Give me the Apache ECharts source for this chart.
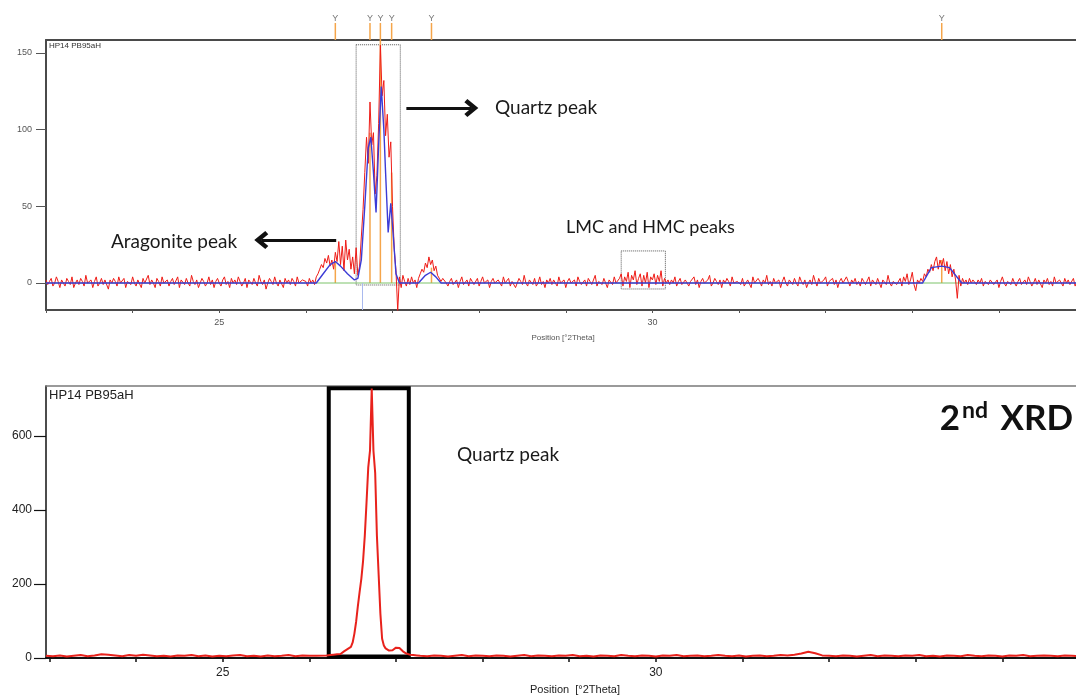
<!DOCTYPE html>
<html>
<head>
<meta charset="utf-8">
<title>HP14 PB95aH – XRD scans</title>
<script src="https://cdn.jsdelivr.net/npm/echarts@6/dist/echarts.min.js"></script>
<style>
  html, body { margin: 0; padding: 0; background: #fff; overflow: hidden; }
  #chart { width: 1076px; height: 700px; }
</style>
</head>
<body>
<div id="chart"></div>
<script>
// ---------- 1st scan (counts, segments of the 2θ range) ----------
// 23.00 – 25.98 °2θ, step 0.02
const topScanLeft = [
  2,-1,1,3,-2,0,4,1,-3,2,   0,-2,3,1,-1,4,-3,0,2,-1,
  3,1,-2,5,0,-1,2,-3,1,4,   -2,0,3,-1,2,1,-4,2,0,3,
  1,-2,4,0,-1,3,-3,1,2,-1,  4,0,-2,2,1,-3,3,0,-1,5,
  -1,2,0,-3,3,1,-2,4,0,-1,  2,-2,1,3,-1,0,4,-3,2,1,
  -1,3,0,-2,5,1,-1,2,-3,0,  3,1,-2,0,4,-1,2,-3,1,3,
  0,-2,2,4,-1,1,-3,3,0,2,   -1,4,1,-2,0,3,-3,2,1,-1,
  3,0,-2,5,1,-1,2,-4,0,3,   1,-1,4,0,-2,2,1,-3,3,0,
  2,-1,3,1,-2,4,0,-1,2,1
];
// 26.00 – 27.58 °2θ, step 0.02 (aragonite + quartz region)
const topScanQuartz = [
  1,-2,3,0,2,-1,4,6,9,12,
  10,16,13,18,11,15,9,20,14,27,
  12,24,8,28,15,22,9,17,6,23,
  5,11,30,48,72,95,78,118,90,98,
  58,70,104,155,122,132,96,110,82,92,
  50,22,8,-18,4,-3,5,1,-2,3,
  -1,4,0,2,-3,3,6,9,7,13,
  10,17,12,15,8,11,5,6,1,3
];
// 27.60 – 32.98 °2θ, step 0.02 (LMC / HMC window near 29.6 – 30.2)
const topScanMid = [
  2,0,-2,1,3,-1,0,2,-3,1,   4,-1,0,2,-2,3,1,-1,0,3,
  -2,1,4,0,-1,2,-3,1,3,0,   -1,2,1,-2,4,0,-1,3,-2,1,
  2,-3,0,3,1,-1,5,0,-2,2,   1,-1,3,-2,0,4,-1,1,-3,2,
  0,3,-1,2,1,-2,4,0,-1,2,   -3,1,3,0,-1,2,-2,4,1,-1,
  0,2,-2,3,1,-1,0,5,-2,1,   2,-1,3,0,-3,2,1,-1,4,0,
  -1,3,6,-2,4,1,7,-3,5,2,   8,-1,3,6,-2,5,0,7,-3,4,
  2,6,-1,5,1,8,-2,3,0,2,    -1,2,0,4,-2,1,3,-1,0,2,
  3,-2,1,0,4,-1,2,-3,1,3,   0,-1,2,5,-2,0,3,1,-1,2,
  -3,2,0,3,1,-2,4,0,-1,1,   2,-1,3,-2,0,2,1,-3,4,0,
  -1,3,1,-2,2,0,5,-1,1,-2,  3,0,-1,2,-3,1,4,0,-2,2,
  1,-1,3,0,-2,4,1,-1,2,-3,  0,2,-1,5,1,-2,3,0,-1,2,
  4,-2,1,0,3,-1,2,-3,1,3,   0,-1,4,1,-2,2,0,3,-1,1,
  -2,3,1,-1,0,4,-2,2,1,-1,  3,0,-3,2,1,-1,5,0,-2,1,
  2,-1,0,3,-2,4,1,6,-1,2
];
// 33.00 – 33.70 °2θ, step 0.02
const topScanHump = [
  7,-1,-5,2,0,3,1,6,4,9, 7,12,8,14,17,9,15,11,16,8,
  14,6,12,4,9,2,-10,5,-2,3, 0,2,-1,3,0,2
];
// 33.72 – 34.94 °2θ, step 0.02
const topScanRight = [
  1,-1,2,0,3,-2,1,0,-1,2,  3,-1,0,2,-3,1,4,0,-2,1,
  2,-1,3,0,-2,1,3,-1,0,2,  -1,4,1,-2,0,3,-1,2,1,-3,
  2,0,3,-1,1,-2,4,0,-1,2,  1,-2,3,0,2,-1,0,3,-2,1,
  2,0
];

// fitted profile of the 1st scan
const fitPos = [23.00,26.12,26.20,26.28,26.34,26.40,26.48,26.56,26.60,26.64,
                26.68,26.72,26.75,26.78,26.81,26.84,26.87,26.90,26.92,26.95,
                26.98,27.01,27.04,27.08,27.30,27.38,27.44,27.50,27.56,33.12,
                33.22,33.34,33.43,33.57,34.94];
const fitCounts = [0,0,6,12,14,11,6,2,3,15,
                   50,88,95,72,46,90,128,100,72,33,
                   52,30,6,0,0,5,7,4,0,0,
                   10,11,10,0,0];

// reference pattern lines (position °2θ, height in counts)
const stickPos = [26.34, 26.74, 26.86, 26.99, 27.45, 33.34];
const stickHeight = [14, 98, 160, 72, 10, 15];
const cursorPos = 26.65;

// ---------- 2nd scan ----------
// 22.96 – 26.08 °2θ, step 0.08
const botScanLeft = [
  6,5,7,4,6,8,5,7,10,9, 7,5,8,6,9,7,5,6,4,7,
  6,8,5,7,4,6,5,7,8,5, 6,4,7,5,6,8,5,7,6,6
];
// 26.20 – 27.30 °2θ, step 0.02 (quartz peak)
const botScanQuartz = [
  7,6,8,7,9,8,10,12,11,14,
  18,22,24,26,30,42,66,98,140,178,
  214,262,330,420,515,560,728,560,500,330,
  225,120,52,34,26,22,20,19,21,24,
  28,30,27,22,18,14,12,10,9,7,
  8,6,7,5,6,5
];
// 27.36 – 34.88 °2θ, step 0.08
const botScanRight = [
  5,7,6,4,6,8,5,7,6,5, 7,6,4,6,8,5,7,6,5,7,
  6,8,5,6,4,7,6,5,8,6, 5,7,6,4,7,6,8,5,6,7,
  5,6,8,6,5,7,4,6,7,5, 6,8,7,9,12,17,13,7,6,5,
  7,6,4,6,8,5,7,6,5,7, 6,8,5,6,4,7,6,5,8,6,
  5,7,6,4,7,6,8,5,6,7, 6,5,7,6,5
];

// axis ticks
const topYTicks = [0, 50, 100, 150];
const botYTicks = [0, 200, 400, 600];
const xMinorTicks = [23,24,25,26,27,28,29,30,31,32,33,34];
const xLabelTicks = [25, 30];

// ---------- helpers ----------
function scan(start, step, values) {
  return values.map((v, i) => [+(start + i * step).toFixed(3), v]);
}
const topScan = [].concat(
  scan(23.00, 0.02, topScanLeft),
  scan(26.00, 0.02, topScanQuartz),
  scan(27.60, 0.02, topScanMid),
  scan(33.00, 0.02, topScanHump),
  scan(33.72, 0.02, topScanRight)
);
const topFit = fitPos.map((p, i) => [p, fitCounts[i]]);
const botScan = [].concat(
  scan(22.96, 0.08, botScanLeft),
  scan(26.20, 0.02, botScanQuartz),
  scan(27.36, 0.08, botScanRight)
);

const TOP_X_MIN = 23.00, TOP_X_MAX = 34.89;
const BOT_X_MIN = 22.96, BOT_X_MAX = 34.85;
const TOP_Y_MIN = -17.6, TOP_Y_MAX = 158.4;
const AXIS_FONT = 'Liberation Sans';
const NOTE_FONT = 'Lato';
const ORANGE = '#f5a54a';

// chevron arrow head (tip at the top of the path box)
const chevron = 'path://M10,0 L20,11 L16.5,14 L10,7 L3.5,14 L0,11 Z';

// frame edge drawn as a bare axis line (the plots run off the right edge)
function frameEdge(gridIndex, min, max, color, width) {
  return { gridIndex, type: 'value', position: 'top', min, max,
    axisLine: { show: true, onZero: false, lineStyle: { color, width } },
    axisTick: { show: false }, axisLabel: { show: false }, splitLine: { show: false } };
}

const chart = echarts.init(document.getElementById('chart'), null, { renderer: 'canvas' });

const option = {
  animation: false,
  backgroundColor: '#ffffff',
  grid: [
    { left: 46, right: 0, top: 40, height: 270 },
    { left: 46, right: 0, top: 386, height: 272 }
  ],
  xAxis: [
    { gridIndex: 0, type: 'value', min: TOP_X_MIN, max: TOP_X_MAX,
      axisLine: { show: true, onZero: false, lineStyle: { color: '#4a4a4a', width: 2 } },
      splitLine: { show: false },
      axisTick: { show: true, length: 3, customValues: xMinorTicks, lineStyle: { color: '#555' } },
      axisLabel: { customValues: xLabelTicks, margin: 8, fontSize: 9, color: '#555', fontFamily: AXIS_FONT } },
    { gridIndex: 1, type: 'value', min: BOT_X_MIN, max: BOT_X_MAX,
      axisLine: { show: true, onZero: false, lineStyle: { color: '#111', width: 2 } },
      splitLine: { show: false },
      axisTick: { show: true, length: 4, customValues: xMinorTicks, lineStyle: { color: '#111', width: 1.5 } },
      axisLabel: { customValues: xLabelTicks, margin: 9, fontSize: 12, color: '#222', fontFamily: AXIS_FONT } },
    frameEdge(0, TOP_X_MIN, TOP_X_MAX, '#4a4a4a', 2),
    frameEdge(1, BOT_X_MIN, BOT_X_MAX, '#7a7a7a', 1.5)
  ],
  yAxis: [
    { gridIndex: 0, type: 'value', min: TOP_Y_MIN, max: TOP_Y_MAX,
      axisLine: { show: true, onZero: false, lineStyle: { color: '#4a4a4a', width: 2 } },
      splitLine: { show: false },
      axisTick: { show: true, length: 10, customValues: topYTicks, lineStyle: { color: '#555' } },
      axisLabel: { customValues: topYTicks, margin: 14, fontSize: 9, color: '#555', fontFamily: AXIS_FONT } },
    { gridIndex: 1, type: 'value', min: 0, max: 735,
      axisLine: { show: true, onZero: false, lineStyle: { color: '#111', width: 1.5 } },
      splitLine: { show: false },
      axisTick: { show: true, length: 12, customValues: botYTicks, lineStyle: { color: '#111', width: 1.2 } },
      axisLabel: { customValues: botYTicks, margin: 14, fontSize: 12, color: '#222', fontFamily: AXIS_FONT } }
  ],
  series: [
    // background level
    { type: 'line', xAxisIndex: 0, yAxisIndex: 0, silent: true, symbol: 'none',
      data: [[TOP_X_MIN, 0], [TOP_X_MAX, 0]],
      lineStyle: { color: '#7cc36b', width: 1 },
      markLine: {
        silent: true, symbol: ['none', chevron], symbolSize: [18, 14],
        label: { show: false },
        lineStyle: { color: '#111', width: 3, type: 'solid' },
        data: [
          [{ coord: [27.16, 114] }, { coord: [27.91, 114] }],
          [{ coord: [26.35, 28] }, { coord: [25.485, 28] }]
        ]
      }
    },
    // reference pattern lines inside the plot
    { type: 'custom', xAxisIndex: 0, yAxisIndex: 0, silent: true, clip: true,
      data: stickPos.map((p, i) => [p, stickHeight[i]]),
      renderItem: (params, api) => {
        const base = api.coord([api.value(0), 0]);
        const tip = api.coord([api.value(0), api.value(1)]);
        return { type: 'line',
          shape: { x1: base[0], y1: base[1], x2: tip[0], y2: tip[1] },
          style: { stroke: ORANGE, lineWidth: 1.5 } };
      }
    },
    // reference pattern markers above the plot
    { type: 'custom', xAxisIndex: 0, yAxisIndex: 0, silent: true, clip: false,
      data: stickPos.map(p => [p, TOP_Y_MAX]),
      renderItem: (params, api) => {
        const edge = api.coord([api.value(0), TOP_Y_MAX]);
        return { type: 'group', children: [
          { type: 'line', shape: { x1: edge[0], y1: edge[1], x2: edge[0], y2: edge[1] - 17 },
            style: { stroke: ORANGE, lineWidth: 1.5 } },
          { type: 'text', x: edge[0], y: edge[1] - 21,
            style: { text: 'Y', fill: '#777', font: '9px ' + AXIS_FONT,
                     textAlign: 'center', textVerticalAlign: 'middle' } }
        ] };
      }
    },
    // measured counts, 1st scan
    { type: 'line', xAxisIndex: 0, yAxisIndex: 0, silent: true, symbol: 'none',
      data: topScan,
      lineStyle: { color: '#ee1c17', width: 1 },
      markArea: {
        silent: true,
        itemStyle: { color: 'rgba(0,0,0,0)', borderColor: '#555', borderWidth: 1, borderType: 'dotted' },
        data: [
          [{ coord: [26.58, 155.3] }, { coord: [27.09, -1.3] }],
          [{ coord: [29.64, 20.9] }, { coord: [30.15, -3.9] }]
        ]
      }
    },
    // fitted profile
    { type: 'line', xAxisIndex: 0, yAxisIndex: 0, silent: true, symbol: 'none',
      data: topFit,
      lineStyle: { color: '#3b3bd6', width: 1.4 },
      markLine: {
        silent: true, symbol: 'none', label: { show: false },
        lineStyle: { color: '#a9b9ee', width: 1, type: 'solid' },
        data: [[{ coord: [cursorPos, 0] }, { coord: [cursorPos, TOP_Y_MIN] }]]
      }
    },
    // measured counts, 2nd scan
    { type: 'line', xAxisIndex: 1, yAxisIndex: 1, silent: true, symbol: 'none',
      data: botScan,
      lineStyle: { color: '#e8221c', width: 2 },
      markArea: {
        silent: true,
        itemStyle: { color: 'rgba(0,0,0,0)', borderColor: '#000', borderWidth: 4 },
        data: [[{ coord: [26.224, 729] }, { coord: [27.148, 4] }]]
      }
    }
  ],
  graphic: [
    { type: 'text', left: 49, top: 42,
      style: { text: 'HP14 PB95aH', fill: '#333', font: '8px ' + AXIS_FONT } },
    { type: 'text', left: 49, top: 389,
      style: { text: 'HP14 PB95aH', fill: '#222', font: '13px ' + AXIS_FONT } },
    { type: 'text', x: 563, y: 338,
      style: { text: 'Position [°2Theta]', fill: '#555', font: '8px ' + AXIS_FONT,
               textAlign: 'center', textVerticalAlign: 'middle' } },
    { type: 'text', x: 575, y: 690,
      style: { text: 'Position  [°2Theta]', fill: '#222', font: '11px ' + AXIS_FONT,
               textAlign: 'center', textVerticalAlign: 'middle' } },
    { type: 'text', x: 495, y: 108,
      style: { text: 'Quartz peak', fill: '#1a1a1a', font: '19px ' + NOTE_FONT,
               textAlign: 'left', textVerticalAlign: 'middle' } },
    { type: 'text', x: 111, y: 242,
      style: { text: 'Aragonite peak', fill: '#1a1a1a', font: '19px ' + NOTE_FONT,
               textAlign: 'left', textVerticalAlign: 'middle' } },
    { type: 'text', x: 566, y: 227,
      style: { text: 'LMC and HMC peaks', fill: '#1a1a1a', font: '18px ' + NOTE_FONT,
               textAlign: 'left', textVerticalAlign: 'middle' } },
    { type: 'text', x: 457, y: 455,
      style: { text: 'Quartz peak', fill: '#1a1a1a', font: '19px ' + NOTE_FONT,
               textAlign: 'left', textVerticalAlign: 'middle' } },
    { type: 'text', x: 960, y: 419,
      style: { text: '2', fill: '#111', font: 'bold 35px ' + NOTE_FONT,
               textAlign: 'right', textVerticalAlign: 'middle' } },
    { type: 'text', x: 962, y: 411,
      style: { text: 'nd', fill: '#111', font: 'bold 23px ' + NOTE_FONT,
               textAlign: 'left', textVerticalAlign: 'middle' } },
    { type: 'text', x: 1073, y: 419,
      style: { text: 'XRD', fill: '#111', font: 'bold 35px ' + NOTE_FONT,
               textAlign: 'right', textVerticalAlign: 'middle' } }
  ]
};

chart.setOption(option);
</script>
</body>
</html>
